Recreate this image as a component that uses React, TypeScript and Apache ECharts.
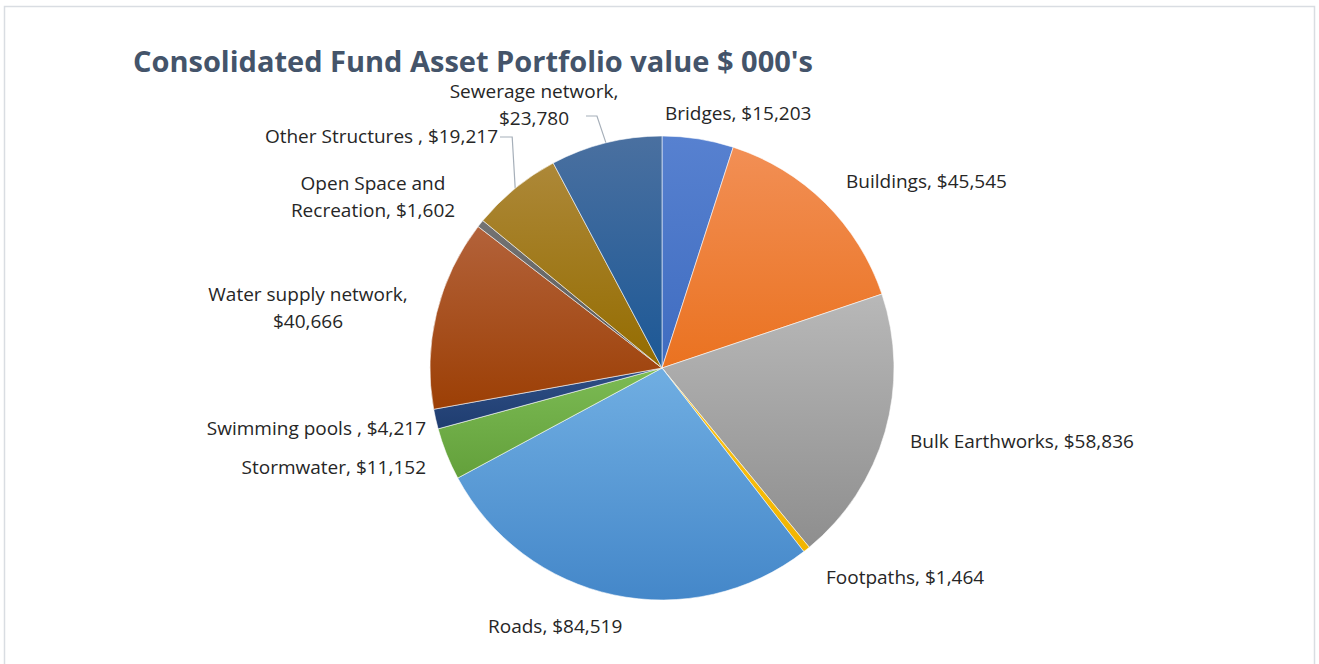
import React, { useEffect, useRef } from "react";
import * as echarts from "echarts";

const titleText = "Consolidated Fund Asset Portfolio value $ 000's";
const categories = [
  "Bridges",
  "Buildings",
  "Bulk Earthworks",
  "Footpaths",
  "Roads",
  "Stormwater",
  "Swimming pools ",
  "Water supply network",
  "Open Space and Recreation",
  "Other Structures ",
  "Sewerage network",
];
const values = [15203, 45545, 58836, 1464, 84519, 11152, 4217, 40666, 1602, 19217, 23780];
const labelTexts = [
  "Bridges, $15,203",
  "Buildings, $45,545",
  "Bulk Earthworks, $58,836",
  "Footpaths, $1,464",
  "Roads, $84,519",
  "Stormwater, $11,152",
  "Swimming pools , $4,217",
  "Water supply network,\n$40,666",
  "Open Space and\nRecreation, $1,602",
  "Other Structures , $19,217",
  "Sewerage network,\n$23,780",
];
const colorsTop = ["#5781d0", "#f28f55", "#b8b8b8", "#ffc61a", "#70aee2", "#7cbb54", "#2f4f86", "#b3623a", "#737373", "#ad8838", "#4a70a0"];
const colorsBottom = ["#3f6cc0", "#ea7220", "#8e8e8e", "#f0b400", "#4487c9", "#63a03b", "#1f3d70", "#9c3f05", "#595959", "#946c00", "#1c5896"];

// label placement (layout only): x, y, align
const labelPlace: [number, number, string][] = [
  [665, 113, "left"],
  [846, 181, "left"],
  [910, 441, "left"],
  [826, 577, "left"],
  [488, 626, "left"],
  [426, 467, "right"],
  [426, 428, "right"],
  [308, 307, "center"],
  [373, 196, "center"],
  [498, 136, "right"],
  [534, 104, "center"],
];
const leaderIdx = [9, 10];

export default function App() {
  const ref = useRef<HTMLDivElement>(null);
  useEffect(() => {
    if (!ref.current) return;
    const chart = echarts.init(ref.current, undefined, { renderer: "svg" });
    const data = categories.map((name, i) => ({
      name,
      value: values[i],
      itemStyle: {
        color: new echarts.graphic.LinearGradient(0, 0, 0, 1, [
          { offset: 0, color: colorsTop[i] },
          { offset: 1, color: colorsBottom[i] },
        ]),
      },
      label: { formatter: labelTexts[i] },
      labelLine: { show: leaderIdx.includes(i) },
    }));
    chart.setOption({
      animation: false,
      backgroundColor: "#ffffff",
      title: {
        text: titleText,
        left: 128,
        top: 43,
        textStyle: {
          fontFamily: "Open Sans",
          fontWeight: "bold",
          fontSize: 29,
          lineHeight: 24,
          color: "#44546A",
        },
      },
      graphic: [
        {
          type: "rect",
          shape: { x: 4.5, y: 6.5, width: 1310, height: 680 },
          style: { fill: "none", stroke: "#d9dde2", lineWidth: 1.5 },
          silent: true,
        },
      ],
      series: [
        {
          type: "pie",
          center: [662, 368],
          radius: 232,
          startAngle: 90,
          clockwise: true,
          avoidLabelOverlap: false,
          itemStyle: { borderColor: "rgba(255,255,255,0.7)", borderWidth: 0.8 },
          label: {
            show: true,
            position: "outside",
            fontFamily: "Open Sans",
            fontSize: 19,
            lineHeight: 27,
            color: "#262626",
          },
          labelLine: {
            lineStyle: { color: "#a6afb9", width: 1.2 },
            length: 10,
            length2: 10,
          },
          labelLayout: (params: any) => {
            const i = params.dataIndex;
            const [x, y, align] = labelPlace[i];
            const out: any = { x, y, align, verticalAlign: "middle", hideOverlap: false };
            if (leaderIdx.includes(i) && params.labelLinePoints) {
              const edge = params.labelLinePoints[0];
              const ly = i === 10 ? y + 12 : y + 1;
              const endX = i === 10 ? 586 : x + 2;
              out.labelLinePoints = [edge, [edge[0] - (i === 10 ? 9 : 3), ly], [endX, ly]];
            }
            return out;
          },
          data,
        },
      ],
    });
    return () => chart.dispose();
  }, []);
  return (
    <div
      ref={ref}
      style={{ position: "fixed", left: 0, top: 0, width: 1319, height: 664 }}
    />
  );
}
